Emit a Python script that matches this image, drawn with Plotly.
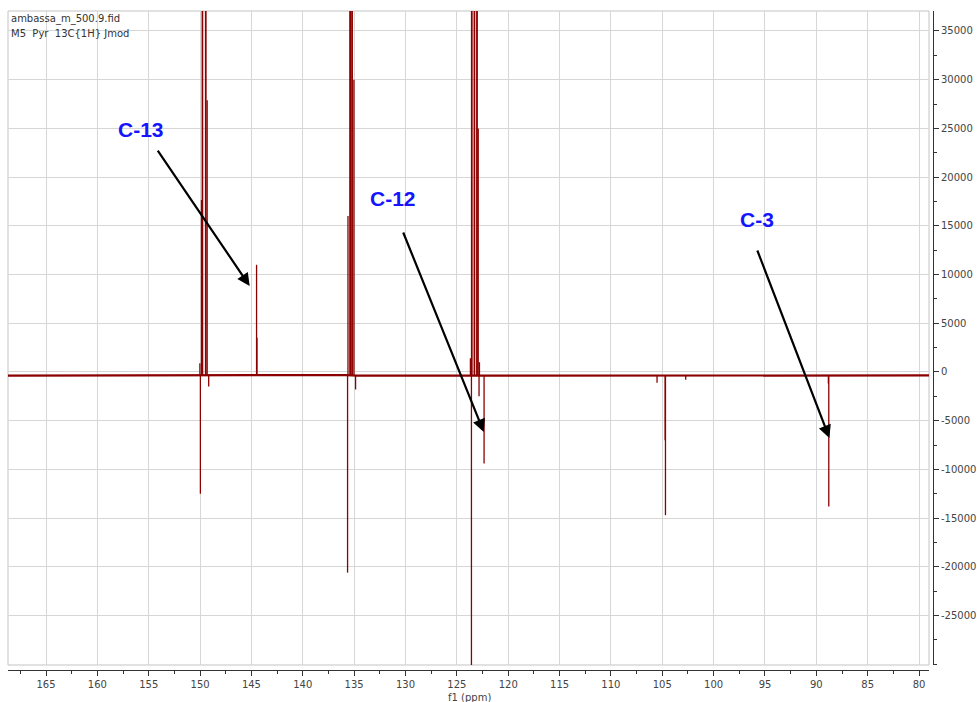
import plotly.graph_objects as go

# ---- data (ppm, intensity) ----
baseline_ppm = [168.7, 150.1, 149.0, 135.8, 134.7, 123.8, 122.2, 79.0]
baseline_int = [-380, -330, -400, -320, -380, -330, -380, -360]

peak_ppm = [
    150.02, 149.97, 149.86, 149.79, 149.75, 149.47, 149.43, 149.31, 149.16,
    144.50, 144.46,
    135.64, 135.60, 135.41, 135.37, 135.22, 135.18, 135.02, 134.86,
    123.68, 123.58, 123.57, 123.53, 123.31, 123.27, 123.06, 123.02, 122.92,
    122.84, 122.80, 122.35,
    105.51, 104.72, 104.69, 102.72,
    88.83, 88.79,
]
peak_int = [
    900, -12500, 17650, 90000, 90000, 90000, 90000, 27900, -1500,
    11000, 3500,
    -20600, 16000, 90000, 90000, 90000, 90000, 30000, -1800,
    1400, -32000, 90000, 90000, 90000, 90000, 90000, 90000, 25000,
    -2500, 1000, -9400,
    -1100, -7000, -14700, -800,
    -1200, -13800,
]

x_ticks = list(range(80, 170, 5))
y_ticks = list(range(-25000, 40000, 5000))

header_lines = ["ambassa_m_500.9.fid", "M5  Pyr  13C{1H} Jmod"]
x_title = "f1 (ppm)"

labels = ["C-13", "C-12", "C-3"]

BASE = -350
RED = "#8b0000"

# stick spectrum built from the peak list
sx, sy = [], []
for p, h in zip(peak_ppm, peak_int):
    sx += [p, p, None]
    sy += [BASE, h, None]

fig = go.Figure()
fig.add_trace(go.Scatter(x=baseline_ppm, y=baseline_int, mode="lines",
                         line=dict(color=RED, width=2.2), hoverinfo="skip",
                         showlegend=False))
fig.add_trace(go.Scatter(x=sx, y=sy, mode="lines",
                         line=dict(color=RED, width=1.3), hoverinfo="skip",
                         showlegend=False))

FONT = "DejaVu Sans"
TICKC = "#444444"

fig.update_layout(
    width=977, height=702,
    margin=dict(l=8, r=44, t=11, b=32, autoexpand=False),
    paper_bgcolor="white", plot_bgcolor="white",
    font=dict(family=FONT, size=10, color=TICKC),
    showlegend=False,
    xaxis=dict(
        range=[168.7, 79.03], domain=[0, 0.9957],
        anchor="free", position=0, automargin=False,
        tickvals=x_ticks, ticktext=[str(v) for v in x_ticks],
        showgrid=True, gridcolor="#d6d6d6", gridwidth=1,
        zeroline=False, showline=True, linecolor="#333333", linewidth=1,
        ticks="outside", ticklen=5, tickcolor="#333333",
        minor=dict(dtick=2.5, tick0=0, ticks="outside", ticklen=3,
                   tickcolor="#333333", showgrid=False),
        tickfont=dict(family=FONT, size=10, color=TICKC),
    ),
    yaxis=dict(
        range=[-30080, 37050], domain=[0.0076, 1],
        side="right", anchor="free", position=1, automargin=False,
        tickvals=y_ticks, ticktext=[str(v) for v in y_ticks],
        showgrid=True, gridcolor="#d6d6d6", gridwidth=1,
        zeroline=False, showline=True, linecolor="#333333", linewidth=1,
        ticks="outside", ticklen=5, tickcolor="#333333",
        minor=dict(dtick=2500, tick0=0, ticks="outside", ticklen=3,
                   tickcolor="#333333", showgrid=False),
        tickfont=dict(family=FONT, size=10, color=TICKC),
    ),
)

# gray frame around the plotting area
fig.add_shape(type="rect", xref="x domain", yref="y domain",
              x0=0, x1=1, y0=0, y1=1,
              line=dict(color="#c4c4c4", width=1), layer="below")

# x-axis title
fig.add_annotation(xref="paper", yref="paper", x=0.499, y=-0.041,
                   xanchor="center", yanchor="middle", text=x_title,
                   showarrow=False, font=dict(family=FONT, size=10, color=TICKC))

# header text (top-left)
for i, t in enumerate(header_lines):
    fig.add_annotation(xref="paper", yref="paper", x=0.001, y=1 - i * 0.023,
                       xanchor="left", yanchor="top", text=t, showarrow=False,
                       font=dict(family=FONT, size=10, color="#333333"))

# labels and arrows
label_pos = [(155.73, 24930), (131.24, 17850), (95.80, 15700)]
arrow_tail = [(154.22, 22880), (130.28, 14467), (95.80, 12620)]
arrow_head = [(145.17, 8824), (122.38, -6156), (88.73, -6772)]

for lab, (lx, ly), (tx, ty), (hx, hy) in zip(labels, label_pos, arrow_tail, arrow_head):
    fig.add_annotation(x=lx, y=ly, xref="x", yref="y", text="<b>%s</b>" % lab,
                       showarrow=False,
                       font=dict(family="Liberation Sans", size=21, color="#1414ff"))
    fig.add_annotation(x=hx, y=hy, ax=tx, ay=ty, xref="x", yref="y",
                       axref="x", ayref="y", text="", showarrow=True,
                       arrowhead=2, arrowsize=1.15, arrowwidth=2.2,
                       arrowcolor="black", standoff=0, startstandoff=0)

fig.write_html(
    "out.html",
    config={"displayModeBar": False},
    post_script="document.body.style.margin='0';document.body.style.overflow='hidden';",
)
